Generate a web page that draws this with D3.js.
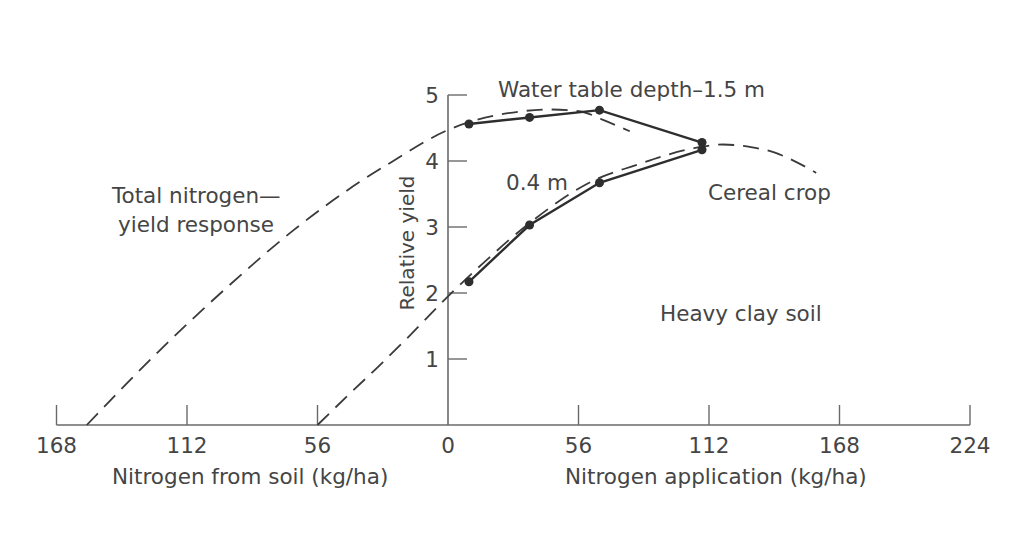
<!DOCTYPE html>
<html>
<head>
<meta charset="utf-8">
<script src="https://cdn.jsdelivr.net/npm/d3@7"></script>
<style>
  html, body { margin: 0; padding: 0; background: #fff; }
  svg { display: block; }
  text { font-family: "DejaVu Sans", "Liberation Sans", Arial, sans-serif; fill: #454545; }
</style>
</head>
<body>
<svg id="chart" width="1016" height="542"></svg>
<script>
// ---- data ----
const xTicksLeft = [-168, -112, -56];          // Nitrogen from soil (shown as positive)
const xTicksRight = [0, 56, 112, 168, 224];    // Nitrogen application
const yTicks = [1, 2, 3, 4, 5];

// Measured yields, water table depth 1.5 m
const deep15N = [9, 35, 65, 109];
const deep15Y = [4.56, 4.66, 4.77, 4.28];
// Measured yields, water table depth 0.4 m
const shallow04N = [9, 35, 65, 109];
const shallow04Y = [2.17, 3.03, 3.67, 4.17];

// Dashed: total nitrogen–yield response (read points)
const totalN = [-155, -124, -95, -66, -38, -24, 0, 12, 25, 44, 57, 66, 78];
const totalY = [0, 1.12, 2.08, 2.96, 3.68, 3.99, 4.47, 4.62, 4.72, 4.78, 4.75, 4.63, 4.45];
// Dashed: cereal crop response (read points)
const cerealN = [-56, -42, -28, -16, 0, 15, 35, 64, 80, 105, 118, 130, 140, 148, 158];
const cerealY = [0, 0.48, 0.95, 1.37, 1.95, 2.45, 3.06, 3.73, 3.93, 4.19, 4.25, 4.21, 4.13, 4.01, 3.82];

// ---- chart ----
const svg = d3.select("#chart");
const x = d3.scaleLinear().domain([-168, 224]).range([56.5, 970]);
const y = d3.scaleLinear().domain([0, 5]).range([425, 95]);

const axisColor = "#6a6a6a";
const lineColor = "#2e2e2e";
const fs = 21.5;

// X axis line
const gx = svg.append("g");
gx.append("line")
  .attr("x1", x(-168)).attr("x2", x(224))
  .attr("y1", y(0)).attr("y2", y(0))
  .attr("stroke", axisColor).attr("stroke-width", 1.6);
const allX = xTicksLeft.concat(xTicksRight);
gx.selectAll("line.t").data(allX.filter(d => d !== 0)).enter().append("line")
  .attr("class", "t")
  .attr("x1", d => x(d)).attr("x2", d => x(d))
  .attr("y1", y(0)).attr("y2", y(0) - 20)
  .attr("stroke", axisColor).attr("stroke-width", 1.4);
gx.selectAll("text").data(allX).enter().append("text")
  .attr("x", d => x(d)).attr("y", y(0) + 28)
  .attr("text-anchor", "middle")
  .attr("font-size", fs)
  .text(d => Math.abs(d));

// Y axis
const gy = svg.append("g");
gy.append("line")
  .attr("x1", x(0)).attr("x2", x(0))
  .attr("y1", y(0)).attr("y2", y(5))
  .attr("stroke", axisColor).attr("stroke-width", 1.6);
gy.selectAll("line.t").data(yTicks).enter().append("line")
  .attr("class", "t")
  .attr("x1", x(0)).attr("x2", x(0) + 19)
  .attr("y1", d => y(d)).attr("y2", d => y(d))
  .attr("stroke", axisColor).attr("stroke-width", 1.4);
gy.selectAll("text").data(yTicks).enter().append("text")
  .attr("x", x(0) - 9).attr("y", d => y(d) + 8)
  .attr("text-anchor", "end")
  .attr("font-size", fs)
  .text(d => d);

svg.append("text")
  .attr("transform", `translate(${x(0) - 34},${243}) rotate(-90)`)
  .attr("text-anchor", "middle")
  .attr("font-size", 20)
  .text("Relative yield");

// Axis titles
svg.append("text").attr("x", 112).attr("y", 484).attr("font-size", fs)
  .text("Nitrogen from soil (kg/ha)");
svg.append("text").attr("x", 565).attr("y", 484).attr("font-size", fs)
  .text("Nitrogen application  (kg/ha)");

// Dashed curves
const curve = d3.line().x(d => x(d[0])).y(d => y(d[1])).curve(d3.curveMonotoneX);
function dashed(ns, ys) {
  svg.append("path")
    .datum(ns.map((n, i) => [n, ys[i]]))
    .attr("d", curve)
    .attr("fill", "none")
    .attr("stroke", "#3a3a3a")
    .attr("stroke-width", 1.8)
    .attr("stroke-dasharray", "16,9");
}
dashed(totalN, totalY);
dashed(cerealN, cerealY);

// Solid measured lines with points
const straight = d3.line().x(d => x(d[0])).y(d => y(d[1]));
function series(ns, ys) {
  const pts = ns.map((n, i) => [n, ys[i]]);
  svg.append("path").datum(pts).attr("d", straight)
    .attr("fill", "none").attr("stroke", lineColor).attr("stroke-width", 2.4);
  svg.selectAll(null).data(pts).enter().append("circle")
    .attr("cx", d => x(d[0])).attr("cy", d => y(d[1])).attr("r", 4.5)
    .attr("fill", lineColor);
}
series(deep15N, deep15Y);
series(shallow04N, shallow04Y);

// Annotations
const ann = [
  ["Water table depth\u20131.5 m", 498, 97],
  ["0.4 m", 506, 190],
  ["Cereal crop", 708, 200],
  ["Heavy clay soil", 660, 321],
  ["Total nitrogen\u2014", 112, 203],
  ["yield response", 118, 232]
];
svg.selectAll("text.ann").data(ann).enter().append("text")
  .attr("class", "ann")
  .attr("x", d => d[1]).attr("y", d => d[2])
  .attr("font-size", fs)
  .text(d => d[0]);
</script>
</body>
</html>
